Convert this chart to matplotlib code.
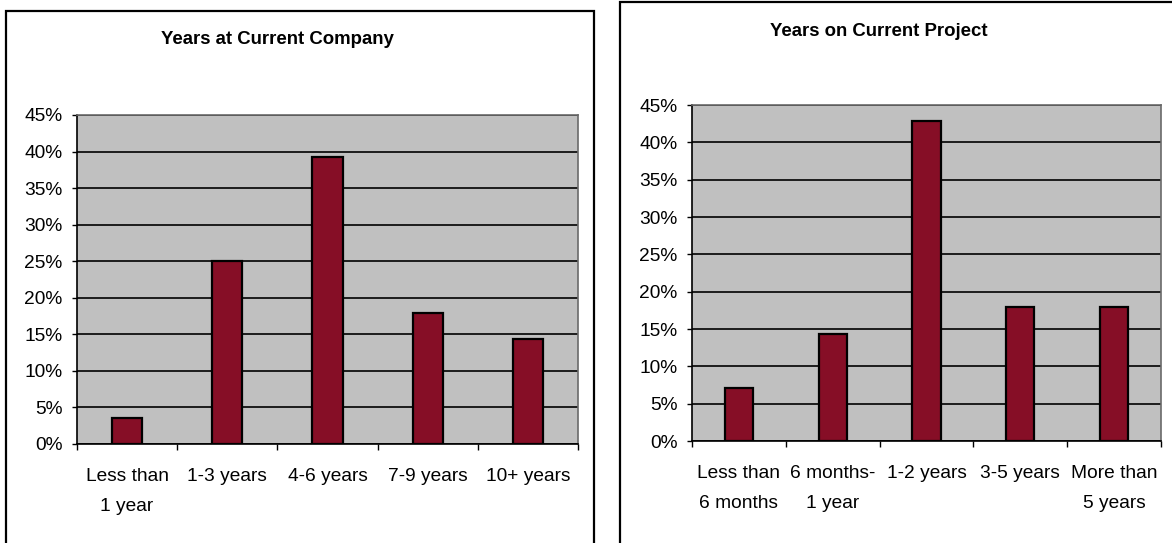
import matplotlib
matplotlib.use("Agg")
import matplotlib.pyplot as plt
from matplotlib.patches import Rectangle
from matplotlib.ticker import FixedLocator

plt.rcParams['font.family'] = ['Liberation Sans', 'DejaVu Sans']

# Survey results (percent of respondents)
company_categories = ["Less than\n1 year", "1-3 years", "4-6 years", "7-9 years", "10+ years"]
company_values = [3.6, 25.0, 39.3, 17.9, 14.3]

project_categories = ["Less than\n6 months", "6 months-\n1 year", "1-2 years", "3-5 years", "More than\n5 years"]
project_values = [7.1, 14.3, 42.9, 17.9, 17.9]

y_ticks = [0, 5, 10, 15, 20, 25, 30, 35, 40, 45]

W, H = 1172, 543
fig = plt.figure(figsize=(W / 100, H / 100), dpi=100)
fig.patch.set_facecolor("white")

BAR_COLOR = "#860e26"
PLOT_BG = "#c0c0c0"


def px_rect(x0, y0, x1, y1):
    """Convert pixel box (top-left origin) to figure fractions [l, b, w, h]."""
    return [x0 / W, 1 - y1 / H, (x1 - x0) / W, (y1 - y0) / H]


def draw_panel(box, cats, vals, title, title_xy):
    ax = fig.add_axes(px_rect(*box))
    ax.set_facecolor(PLOT_BG)
    ax.set_axisbelow(True)
    x = list(range(len(cats)))
    ax.bar(x, vals, width=0.3, color=BAR_COLOR, edgecolor="black", linewidth=1.6, zorder=3)
    ax.set_xlim(-0.5, len(cats) - 0.5)
    ax.set_ylim(0, 45)
    ax.set_yticks(y_ticks)
    ax.set_yticklabels([f"{v}%" for v in y_ticks])
    ax.yaxis.grid(True, color="black", linewidth=1.2)
    ax.set_xticks(x)
    ax.set_xticklabels(cats, linespacing=2.0)
    ax.xaxis.set_minor_locator(FixedLocator([i - 0.5 for i in range(len(cats) + 1)]))
    ax.tick_params(axis="x", which="major", length=0, pad=17, labelsize=13.8)
    ax.tick_params(axis="x", which="minor", length=4.5, width=1.0, color="black")
    ax.tick_params(axis="y", length=3.6, width=1.0, pad=7, labelsize=13.8)
    for s in ("top", "right"):
        ax.spines[s].set_color("#6a6a6a")
        ax.spines[s].set_linewidth(1.2)
    for s in ("left", "bottom"):
        ax.spines[s].set_color("black")
        ax.spines[s].set_linewidth(1.2)
    fig.text(title_xy[0] / W, 1 - title_xy[1] / H, title, ha="center", va="center",
             fontsize=13.4, fontweight="bold")
    return ax


# Chart frames
fig.add_artist(Rectangle((6 / W, -0.05), (594 - 6) / W, 1.05 - 11 / H, transform=fig.transFigure,
                         fill=False, edgecolor="black", linewidth=1.6))
fig.add_artist(Rectangle((620 / W, -0.05), 0.6, 1.05 - 2 / H, transform=fig.transFigure,
                         fill=False, edgecolor="black", linewidth=1.6))

draw_panel((77, 115, 578, 444), company_categories, company_values,
           "Years at Current Company", (277, 40))
draw_panel((692, 105, 1161, 441), project_categories, project_values,
           "Years on Current Project", (879, 32))

fig.savefig("out.png", dpi=100)
